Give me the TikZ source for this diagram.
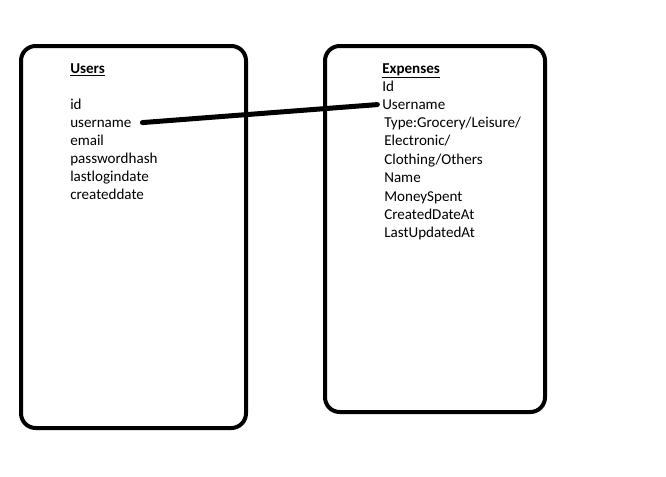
\documentclass[tikz,border=0pt]{standalone}
\usepackage{fontspec}
\setmainfont{Carlito}
\begin{document}
\begin{tikzpicture}[x=0.75pt,y=-0.75pt,
    entity/.style={draw, line width=3pt, rounded corners=11pt},
    attr/.style={anchor=base west, inner sep=0pt, font=\fontsize{11.3}{13.5}\selectfont},
    link/.style={line width=3.75pt, line cap=round}]
  \useasboundingbox (0,0) rectangle (666,476);
  \node (users) [entity, minimum width=225*0.75pt, minimum height=382*0.75pt] at (133.5,237) {};
  \node (expenses) [entity, minimum width=220*0.75pt, minimum height=366*0.75pt] at (435,229) {};
  % users table
  \node (utitle) [attr] at (70,73) {\underline{\textbf{Users}}};
  \node (uid) [attr] at (70,109) {id};
  \node (uname) [attr] at (70,127) {username};
  \node (umail) [attr] at (70,145) {email};
  \node (uhash) [attr] at (70,163) {passwordhash};
  \node (ulogin) [attr] at (70,181) {lastlogindate};
  \node (ucreated) [attr] at (70,199) {createddate};
  % expenses table
  \node (etitle) [attr] at (382,73) {\underline{\textbf{Expenses}}};
  \node (eid) [attr] at (382,91) {Id};
  \node (ename) [attr] at (382,109) {Username};
  \node (etype) [attr] at (384,127) {Type:Grocery/Leisure/};
  \node (etype2) [attr] at (384,145.5) {Electronic/};
  \node (etype3) [attr] at (384,164) {Clothing/Others};
  \node (ename2) [attr] at (384,182.5) {Name};
  \node (espent) [attr] at (384,201) {MoneySpent};
  \node (ecreated) [attr] at (384,219) {CreatedDateAt};
  \node (eupdated) [attr] at (384,237) {LastUpdatedAt};
  \draw [link, shorten <=8pt, shorten >=3.5pt] (uname.east) -- (ename.west);
\end{tikzpicture}
\end{document}
